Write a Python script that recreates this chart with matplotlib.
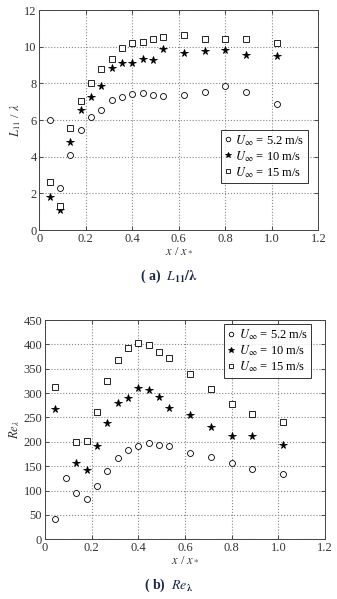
import matplotlib
matplotlib.use("Agg")
import matplotlib.pyplot as plt

plt.rcParams['font.family'] = ['Liberation Serif', 'DejaVu Serif']
plt.rcParams['mathtext.fontset'] = 'stix'

# ---- data ----
x_all = [0.044, 0.089, 0.133, 0.178, 0.222, 0.267, 0.311, 0.356, 0.400,
         0.444, 0.489, 0.533, 0.622, 0.711, 0.800, 0.889, 1.022]

# (a) L11 / lambda
L_52 = [6.0, 2.27, 4.09, 5.45, 6.15, 6.56, 7.10, 7.24, 7.42,
        7.46, 7.36, 7.31, 7.38, 7.55, 7.85, 7.53, 6.89]
L_10 = [1.82, 1.07, 4.82, 6.55, 7.27, 7.87, 8.84, 9.09, 9.11,
        9.33, 9.27, 9.89, 9.67, 9.78, 9.84, 9.56, 9.51]
L_15 = [2.60, 1.29, 5.55, 7.04, 8.05, 8.80, 9.31, 9.95, 10.22,
        10.24, 10.45, 10.51, 10.67, 10.45, 10.42, 10.45, 10.22]

# (b) Re_lambda
Re_52 = [42, 125, 94, 83, 110, 141, 166, 183, 191,
         197, 194, 191, 178, 168, 156, 145, 135]
x_b_10 = [0.044, 0.133, 0.178, 0.222, 0.267, 0.311, 0.356, 0.400,
          0.444, 0.489, 0.533, 0.622, 0.711, 0.800, 0.889, 1.022]
Re_10 = [267, 156, 142, 192, 239, 280, 291, 310,
         306, 293, 269, 256, 231, 212, 212, 193]
x_b_15 = [0.044, 0.133, 0.178, 0.222, 0.267, 0.311, 0.356, 0.400,
          0.444, 0.489, 0.533, 0.622, 0.711, 0.800, 0.889, 1.022]
Re_15 = [312, 200, 201, 262, 325, 369, 392, 403,
         398, 385, 373, 339, 308, 277, 258, 240]

labels = [r'$U_\infty$ = 5.2 m/s', r'$U_\infty$ = 10 m/s', r'$U_\infty$ = 15 m/s']
xticks = [0, 0.2, 0.4, 0.6, 0.8, 1.0, 1.2]
xticklabels = ['0', '0.2', '0.4', '0.6', '0.8', '1.0', '1.2']

fig = plt.figure(figsize=(3.37, 5.99), dpi=100)
ax1 = fig.add_axes([0.1167, 0.616, 0.828, 0.367])
ax2 = fig.add_axes([0.1335, 0.0997, 0.831, 0.366])

fs = 9
mk = dict(linestyle='none', markeredgewidth=0.6)

def style(ax):
    ax.set_xlim(0, 1.2)
    ax.set_xticks(xticks)
    ax.set_xticklabels(xticklabels)
    ax.grid(True, linestyle=':', color='#888888', linewidth=0.8)
    ax.tick_params(direction='in', length=3, width=0.6, labelsize=fs, colors='#333333',
                   top=True, right=True, pad=2)
    for s in ax.spines.values():
        s.set_linewidth(0.7)
        s.set_color('#444444')
    ax.set_xlabel(r'$x$ / $x_*$', fontsize=fs, labelpad=0, color='#333333')

ax1.plot(x_all, L_52, marker='o', mfc='white', mec='black', ms=4.3, **mk)
ax1.plot(x_all, L_10, marker='*', mfc='black', mec='black', ms=5.5, **mk)
ax1.plot(x_all, L_15, marker='s', mfc='white', mec='black', ms=3.8, **mk)
ax1.set_ylim(0, 12)
ax1.set_yticks([0, 2, 4, 6, 8, 10, 12])
style(ax1)
ax1.set_ylabel(r'$L_{11}$ / $\lambda$', fontsize=fs, labelpad=1, color='#333333')
leg1 = ax1.legend(labels, loc='lower right', bbox_to_anchor=(0.962, 0.215),
                  fontsize=fs, frameon=True, fancybox=False, handlelength=0.6,
                  handletextpad=0.3, borderpad=0.25, labelspacing=0.1, borderaxespad=0,
                  markerscale=0.75)
leg1.get_frame().set_edgecolor('black')
leg1.get_frame().set_linewidth(0.7)

ax2.plot(x_all, Re_52, marker='o', mfc='white', mec='black', ms=4.3, **mk)
ax2.plot(x_b_10, Re_10, marker='*', mfc='black', mec='black', ms=5.5, **mk)
ax2.plot(x_b_15, Re_15, marker='s', mfc='white', mec='black', ms=3.8, **mk)
ax2.set_ylim(0, 450)
ax2.set_yticks(list(range(0, 451, 50)))
style(ax2)
ax2.set_ylabel(r'$Re_\lambda$', fontsize=fs, labelpad=1, color='#333333')
leg2 = ax2.legend(labels, loc='upper right', bbox_to_anchor=(0.95, 0.98),
                  fontsize=fs, frameon=True, fancybox=False, handlelength=0.6,
                  handletextpad=0.3, borderpad=0.25, labelspacing=0.1, borderaxespad=0,
                  markerscale=0.75)
leg2.get_frame().set_edgecolor('black')
leg2.get_frame().set_linewidth(0.7)

cap_color = '#1c2a4a'
fig.text(0.5, 1 - 276.7 / 599, r'( a)  $\mathbf{\mathit{L}_{11}/\lambda}$', ha='center', va='center',
         fontsize=10, fontweight='bold', color=cap_color)
fig.text(0.5, 1 - 585.7 / 599, r'( b)  $\mathbf{\mathit{Re}_{\lambda}}$', ha='center', va='center',
         fontsize=10, fontweight='bold', color=cap_color)

fig.savefig('out.png', dpi=100, facecolor='white')
